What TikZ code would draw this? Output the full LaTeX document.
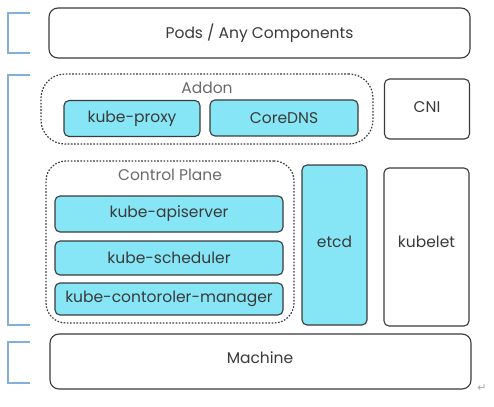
\documentclass[tikz,border=0pt]{standalone}
\usepackage{fontspec}
\setmainfont{Poppins}
\newfontfamily\symfont{DejaVu Sans}
\definecolor{cyanfill}{HTML}{86E6F5}
\definecolor{edge}{HTML}{3A3A3A}
\definecolor{bracketblue}{HTML}{86AEDB}
\definecolor{labelgray}{HTML}{6A6A6A}
\begin{document}
\begin{tikzpicture}[x=1pt,y=-1pt,
  box/.style={draw=edge, line width=1.1pt, rounded corners=9pt, fill=white, text=edge, font=\fontsize{15.5}{17}\selectfont, inner sep=0pt},
  cbox/.style={box, fill=cyanfill, rounded corners=5pt},
  group/.style={draw=edge, line width=1.2pt, dash pattern=on 1.6pt off 1.6pt, inner sep=0pt},
  glabel/.style={text=labelgray, font=\fontsize{15.5}{17}\selectfont, inner sep=0pt},
  btext/.style={text=edge, font=\fontsize{15.5}{17}\selectfont, inner sep=0pt},
  bracket/.style={draw=bracketblue, line width=1.6pt}
]
\useasboundingbox (0,0) rectangle (494,406);
% brackets
\draw[bracket] (30,13) -- (8,13) -- (8,53) -- (30,53);
\draw[bracket] (30,75) -- (8,75) -- (8,325) -- (30,325);
\draw[bracket] (30,342) -- (8,342) -- (8,383) -- (30,383);
% top box
\node[box, minimum width=421pt, minimum height=50pt] (pods) at (259.5,33) {Pods / Any Components};
% addon group
\node[group, rounded corners=24pt, minimum width=332pt, minimum height=70pt] (addon) at (207,109) {};
\node[glabel] (addonlbl) at (207,88) {Addon};
\node[cbox, minimum width=136pt, minimum height=36pt] (proxy) at (132,118.5) {kube-proxy};
\node[cbox, minimum width=148pt, minimum height=36pt] (dns) at (284,118) {CoreDNS};
\node[box, rounded corners=5pt, minimum width=85pt, minimum height=60pt] (cni) at (427,109) {};
\node[btext] (cnilbl) at (427,107) {CNI};
% control plane group
\node[group, rounded corners=20pt, minimum width=248pt, minimum height=162pt] (cp) at (170,242) {};
\node[glabel] (cplbl) at (170,175) {Control Plane};
\node[cbox, minimum width=228pt, minimum height=36pt] (api) at (169,214) {kube-apiserver};
\node[cbox, minimum width=228pt, minimum height=34pt] (sched) at (169,258) {kube-scheduler};
\node[cbox, minimum width=228pt, minimum height=32pt] (ctrl) at (169,299) {kube-contoroler-manager};
% etcd and kubelet
\node[cbox, minimum width=65pt, minimum height=160pt] (etcd) at (334.5,245) {};
\node[btext] (etcdlbl) at (334.5,242) {etcd};
\node[box, rounded corners=5pt, minimum width=85pt, minimum height=158pt] (kubelet) at (426.5,247) {};
\node[btext] (kubeletlbl) at (426.5,242) {kubelet};
% machine
\node[box, minimum width=421pt, minimum height=55pt] (machine) at (260.5,361.5) {};
\node[btext] (machinelbl) at (260,358) {Machine};
% return mark
\node[text=gray!70, font=\symfont\fontsize{11}{12}\selectfont, inner sep=0pt] (ret) at (482,388) {↵};
\end{tikzpicture}
\end{document}
